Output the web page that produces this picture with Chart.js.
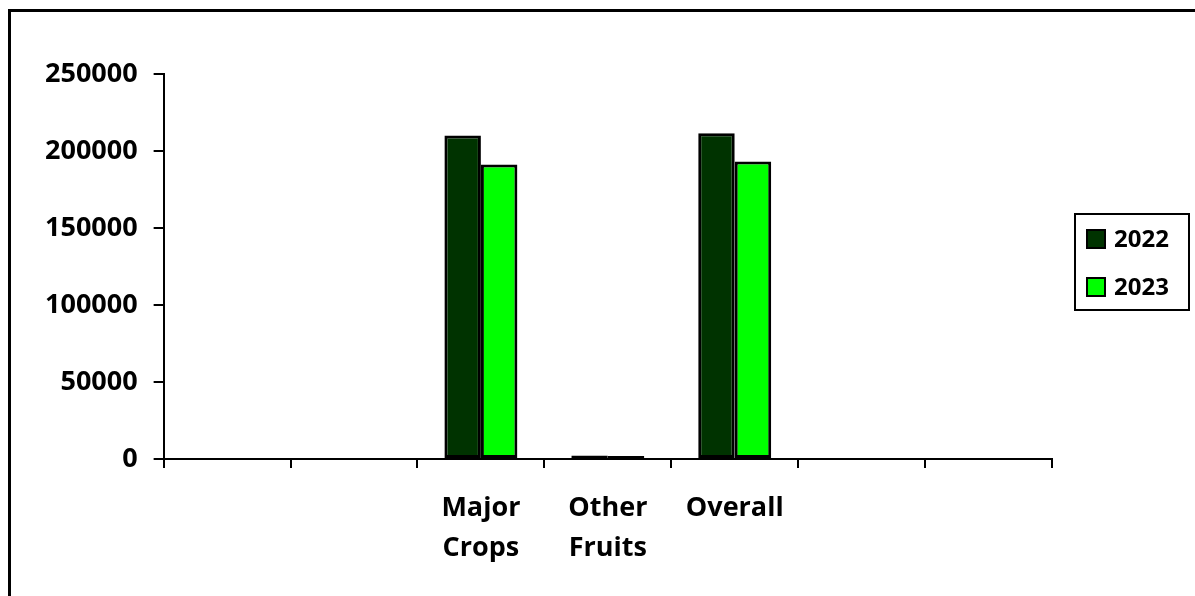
<!DOCTYPE html>
<html>
<head>
<meta charset="utf-8">
<script src="https://cdn.jsdelivr.net/npm/chart.js@4/dist/chart.umd.min.js"></script>
<style>
  html, body { margin: 0; padding: 0; background: #fff; overflow: hidden; }
  #marco { position: absolute; left: 8px; top: 9px; width: 1400px; height: 800px; border: 3px solid #000; }
  #wrap { position: absolute; left: 0; top: 0; width: 1195px; height: 596px; }
</style>
</head>
<body>
<div id="marco"></div>
<div id="wrap"><canvas id="grafico"></canvas></div>
<script>
// Datos
const categorias = ['', '', ['Major', 'Crops'], ['Other', 'Fruits'], 'Overall', '', ''];
const valores2022 = [null, null, 210000, 2200, 211600, null, null];
const valores2023 = [null, null, 191300, 2000, 193200, null, null];
const series = ['2022', '2023'];
const colores = ['#003300', '#00ff00'];
const ticksY = [0, 50000, 100000, 150000, 200000, 250000];

const fuente = { family: 'Open Sans', weight: 'bold', size: 27, lineHeight: 1.5 };

// Leyenda dibujada a mano con borde
const leyenda = {
  id: 'leyenda',
  afterDraw(chart) {
    const ctx = chart.ctx;
    ctx.save();
    ctx.strokeStyle = '#000';
    ctx.lineWidth = 2;
    ctx.strokeRect(1075, 214, 114, 96);
    ctx.font = 'bold 24px "Open Sans"';
    ctx.textBaseline = 'middle';
    series.forEach((s, i) => {
      const y = 239 + i * 48;
      ctx.fillStyle = colores[i];
      ctx.fillRect(1087, y - 9, 18, 18);
      ctx.lineWidth = 2;
      ctx.strokeRect(1087, y - 9, 18, 18);
      ctx.fillStyle = '#000';
      ctx.fillText(s, 1114, y + 1);
    });
    ctx.restore();
  }
};

const config = {
  type: 'bar',
  data: {
    labels: categorias,
    datasets: [
      { label: series[0], data: valores2022, backgroundColor: colores[0], borderColor: '#000', borderWidth: 3, borderSkipped: false },
      { label: series[1], data: valores2023, backgroundColor: colores[1], borderColor: '#000', borderWidth: 3, borderSkipped: false }
    ]
  },
  options: {
    responsive: false,
    animation: false,
    layout: { padding: { left: 29, right: 143, top: 74, bottom: 7 } },
    plugins: {
      legend: { display: false },
      tooltip: { enabled: false }
    },
    datasets: { bar: { categoryPercentage: 0.575, barPercentage: 1 } },
    scales: {
      x: {
        grid: { display: true, drawOnChartArea: false, color: '#000', lineWidth: 2, tickLength: 9, offset: true },
        border: { color: '#000', width: 2 },
        ticks: { color: '#000', font: fuente, padding: 20, maxRotation: 0, autoSkip: false }
      },
      y: {
        min: 0,
        max: 250000,
        afterBuildTicks(axis) { axis.ticks = ticksY.map(v => ({ value: v })); },
        grid: { display: true, drawOnChartArea: false, color: '#000', lineWidth: 2, tickLength: 10 },
        border: { color: '#000', width: 2 },
        ticks: { color: '#000', font: fuente, padding: 16, callback: v => String(v) }
      }
    }
  },
  plugins: [leyenda]
};

const canvas = document.getElementById('grafico');
canvas.width = 1195;
canvas.height = 596;
const miGrafico = new Chart(canvas.getContext('2d'), config);
</script>
</body>
</html>
